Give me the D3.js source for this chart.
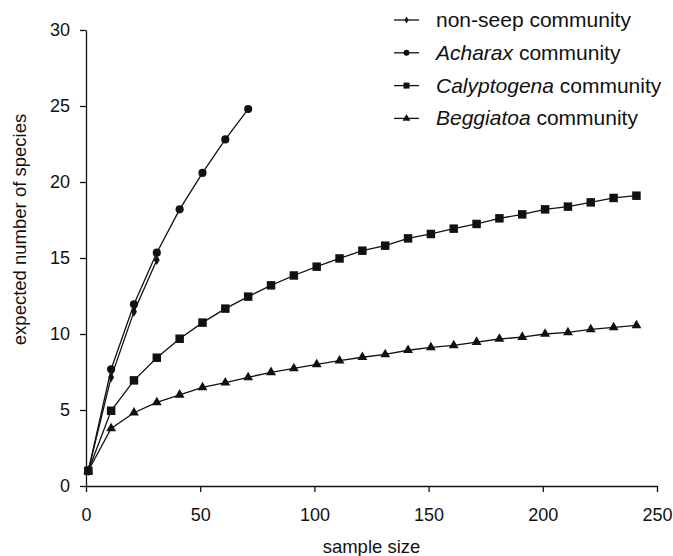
<!DOCTYPE html>
<meta charset="utf-8">
<head>
    <title>Rarefaction curves</title>
    <script src="https://cdn.jsdelivr.net/npm/d3@7"></script>
    <style>
        body { margin: 0; background: #fff; }
        text { font-family: "Liberation Sans", Arial, Helvetica, sans-serif; fill: #111; }
    </style>
</head>
<body>
    <svg></svg>
    <script>
        // sample sizes (x) for each curve
        var xNonSeep = [1, 11, 21, 31];
        var xAcharax = [1, 11, 21, 31, 41, 51, 61, 71];
        var xLong = [1, 11, 21, 31, 41, 51, 61, 71, 81, 91, 101, 111, 121, 131, 141,
            151, 161, 171, 181, 191, 201, 211, 221, 231, 241];

        // expected number of species
        var nonSeep = [1, 7.15, 11.47, 14.87];
        var acharax = [1, 7.68, 11.95, 15.35, 18.2, 20.6, 22.8, 24.8];
        var calyptogena = [1, 4.95, 6.95, 8.44, 9.69, 10.75, 11.67, 12.46, 13.2, 13.85,
            14.43, 14.97, 15.48, 15.81, 16.29, 16.58, 16.93, 17.24, 17.61, 17.87,
            18.2, 18.38, 18.66, 18.95, 19.1];
        var beggiatoa = [1, 3.79, 4.82, 5.5, 6.0, 6.49, 6.8, 7.15, 7.48, 7.74,
            8.0, 8.25, 8.47, 8.66, 8.93, 9.12, 9.25, 9.47, 9.67, 9.8,
            10.0, 10.11, 10.3, 10.44, 10.57];

        var xTicks = [0, 50, 100, 150, 200, 250];
        var yTicks = [0, 5, 10, 15, 20, 25, 30];

        // legend: [italic part, rest]
        var legendNames = [["", "non-seep community"], ["Acharax", " community"],
            ["Calyptogena", " community"], ["Beggiatoa", " community"]];

        w = 673;
        h = 556;

        var svg = d3.select("svg")
            .attr("width", w)
            .attr("height", h);

        var x = d3.scaleLinear().domain([0, 250]).range([86, 657]);
        var y = d3.scaleLinear().domain([0, 30]).range([486, 30]);

        var series = [
            { xs: xNonSeep, ys: nonSeep, sym: d3.symbolDiamond, size: 30, lsize: 14 },
            { xs: xAcharax, ys: acharax, sym: d3.symbolCircle, size: 52, lsize: 28 },
            { xs: xLong, ys: calyptogena, sym: d3.symbolSquare, size: 72, lsize: 36 },
            { xs: xLong, ys: beggiatoa, sym: d3.symbolTriangle, size: 42, lsize: 26 }
        ];

        // axes
        var gx = svg.append("g")
            .attr("transform", "translate(0," + y(0) + ")")
            .call(d3.axisBottom(x).tickValues(xTicks).tickSize(6).tickSizeOuter(0).tickPadding(16));
        var gy = svg.append("g")
            .attr("transform", "translate(" + x(0) + ",0)")
            .call(d3.axisLeft(y).tickValues(yTicks).tickSize(6).tickSizeOuter(0).tickPadding(10));

        [gx, gy].forEach(function (g) {
            g.selectAll("path, line").attr("stroke", "#111").attr("stroke-width", 1.3);
            g.selectAll("text")
                .style("font-family", '"Liberation Sans", Arial, sans-serif')
                .style("font-size", "18px")
                .attr("fill", "#111");
        });

        svg.append("text")
            .attr("x", 371.5)
            .attr("y", 553)
            .attr("text-anchor", "middle")
            .style("font-size", "18.5px")
            .text("sample size");

        svg.append("text")
            .attr("transform", "translate(26,229.5) rotate(-90)")
            .attr("text-anchor", "middle")
            .style("font-size", "18.5px")
            .text("expected number of species");

        // curves
        var line = d3.line()
            .x(function (d) { return x(d[0]); })
            .y(function (d) { return y(d[1]); });

        var drawOrder = [3, 0, 1, 2];
        drawOrder.forEach(function (i) {
            var s = series[i];
            var pts = s.xs.map(function (v, k) { return [v, s.ys[k]]; });
            svg.append("path")
                .datum(pts)
                .attr("d", line)
                .attr("fill", "none")
                .attr("stroke", "#111")
                .attr("stroke-width", 1.3);
            svg.append("g").selectAll("path")
                .data(pts)
                .enter().append("path")
                .attr("transform", function (d) { return "translate(" + x(d[0]) + "," + y(d[1]) + ")"; })
                .attr("d", d3.symbol().type(s.sym).size(s.size))
                .attr("fill", "#111");
        });

        // legend
        var legend = svg.append("g").attr("id", "legend");
        legendNames.forEach(function (name, i) {
            var ly = 20 + i * 32.8;
            legend.append("line")
                .attr("x1", 394).attr("x2", 419)
                .attr("y1", ly).attr("y2", ly)
                .attr("stroke", "#111").attr("stroke-width", 1.3);
            legend.append("path")
                .attr("transform", "translate(406.5," + ly + ")")
                .attr("d", d3.symbol().type(series[i].sym).size(series[i].lsize))
                .attr("fill", "#111");
            var t = legend.append("text")
                .attr("x", 436)
                .attr("y", ly + 7)
                .style("font-size", "21px");
            if (name[0]) {
                t.append("tspan").style("font-style", "italic").text(name[0]);
            }
            t.append("tspan").text(name[1]);
        });
    </script>
</body>
</html>
